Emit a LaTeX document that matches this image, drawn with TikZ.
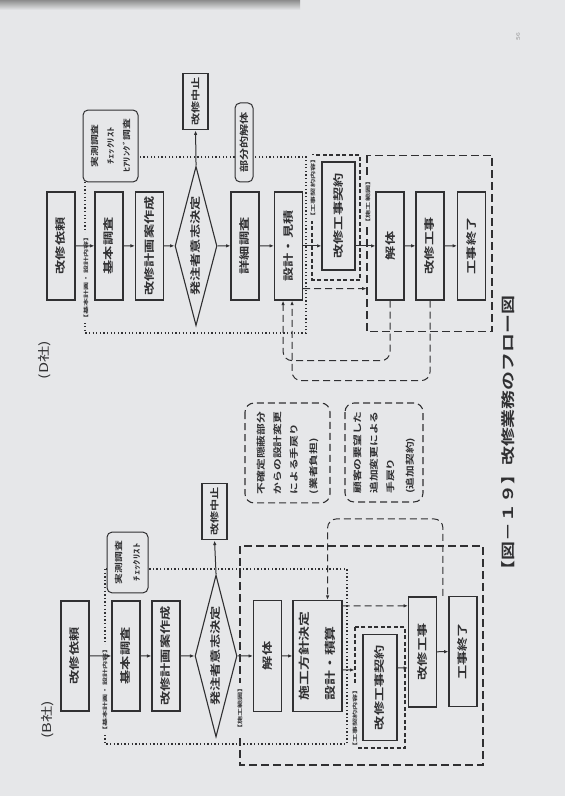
\documentclass[tikz,border=0pt]{standalone}
\usepackage{fontspec}
\setmainfont{Noto Sans CJK JP}[BoldFont={Noto Sans CJK JP Bold}]
\usepackage{graphicx}
\usetikzlibrary{arrows.meta,positioning,shapes.geometric,calc}
\definecolor{paper}{RGB}{230,231,233}
\definecolor{ink}{RGB}{48,48,50}
\newcommand{\tagtxt}[1]{\scalebox{1.2}[1]{#1}}

\begin{document}
\begin{tikzpicture}[
  x=0.7407pt, y=1pt, rotate=90, xscale=1.35, transform shape,
  every node/.style={text=ink},
  flowbox/.style={draw=ink,line width=1.1pt,fill=paper,minimum width=80,minimum height=28,
                  inner sep=1pt,font=\fontsize{10.5}{12}\selectfont\bfseries},
  decide/.style={diamond,shape aspect=3,draw=ink,line width=1.1pt,fill=paper,
                 minimum width=118,minimum height=42,inner sep=0pt,
                 font=\fontsize{10.5}{12}\selectfont\bfseries},
  stopbox/.style={flowbox,minimum width=42,minimum height=25,font=\fontsize{9}{10}\selectfont\bfseries},
  memo/.style={draw=ink,line width=1pt,fill=paper,rounded corners=5pt,align=center,
               inner sep=1pt,font=\fontsize{8}{16}\selectfont\bfseries},
  remark/.style={draw=ink,line width=1.1pt,dash pattern=on 7pt off 4pt,rounded corners=9pt,
                 align=left,inner sep=2pt,font=\fontsize{8.7}{16.5}\selectfont\bfseries},
  bracketlabel/.style={fill=paper,inner sep=0.6pt,font=\fontsize{5}{6}\selectfont\bfseries},
  kihonframe/.style={draw=ink,line width=1.3pt,dash pattern=on 1.3pt off 2.3pt,inner sep=0pt},
  keiyakuframe/.style={draw=ink,line width=1.1pt,dash pattern=on 4pt off 2.5pt,inner sep=0pt},
  sekoframe/.style={draw=ink,line width=1.1pt,dash pattern=on 8pt off 4pt,inner sep=0pt},
  sekoline/.style={dash pattern=on 7pt off 4pt},
  arr/.style={-{Latex[length=4.5pt,width=3.5pt]},draw=ink,line width=1pt},
  backarr/.style={arr,sekoline,rounded corners=9pt},
]
  % Paper
  \fill[paper] (0,0) rectangle (796,-565);
  \shade[top color=black!45,bottom color=paper] (786,0) rectangle (796,-300);
  \useasboundingbox (0,0) rectangle (796,-565);

  % ---------- D社 ----------
  \node[font=\fontsize{12}{14}\selectfont] (dsha) at (436,-45) {(D社)};

  % Frames
  \node[kihonframe,minimum width=130.4,minimum height=221] (dkihonf) at (551,-195.5) {};
  \node[keiyakuframe,minimum width=92.6,minimum height=48] (dkeiyakuf) at (578.5,-336) {};
  \node[sekoframe,minimum width=131,minimum height=125] (dsekof) at (552.5,-429.5) {};
  \node[bracketlabel] (dkihont) at (518,-86) {\tagtxt{【基本計画・設計内容】}};
  \node[bracketlabel] (dkeiyakut) at (608,-313) {\tagtxt{【工事契約内容】}};
  \node[bracketlabel] (dsekot) at (594,-368) {\tagtxt{【施工範囲】}};

  % Flow
  \node[flowbox] (dirai) at (550,-61) {改修依頼};
  \node[flowbox] (dkihon) at (550,-109) {基本調査};
  \node[flowbox] (dkeikaku) at (550,-149.5) {改修計画案作成};
  \node[decide] (dkettei) at (550,-196) {発注者意志決定};
  \node[flowbox] (dshosai) at (550,-245) {詳細調査};
  \node[flowbox] (dsekkei) at (550,-288.5) {設計・見積};
  \node[flowbox,minimum height=33] (dkeiyaku) at (580,-338.5) {改修工事契約};
  \node[flowbox] (dkaitai) at (550,-390) {解体};
  \node[flowbox] (dkoji) at (550,-430) {改修工事};
  \node[flowbox] (dshuryo) at (550,-471.5) {工事終了};
  \node[stopbox] (dchushi) at (694.5,-195.5) {改修中止};
  \node[memo,minimum width=53.3,minimum height=55] (dsokutei) at (650,-110.5)
    {実測調査\\ﾁｪｯｸﾘｽﾄ\\ﾋｱﾘﾝｸﾞ調査};
  \node[memo,minimum width=58.5,minimum height=18,font=\fontsize{9}{10}\selectfont\bfseries]
    (dbubun) at (653.5,-244) {部分的解体};

  % Arrows
  \draw[arr] (dirai) -- (dkihon);
  \draw[arr] (dkihon) -- (dkeikaku);
  \draw[arr] (dkeikaku) -- (dkettei);
  \draw[arr] (dkettei) -- (dshosai);
  \draw[arr] (dshosai) -- (dsekkei);
  \draw[arr] (dsekkei.south) -- (dsekkei.south |- dkeiyaku.north);
  \draw[arr] (dkaitai.north |- dkeiyaku.south) -- (dkaitai.north);
  \draw[arr] (dkaitai) -- (dkoji);
  \draw[arr] (dkoji) -- (dshuryo);
  \draw[arr] (dkettei.east) -- (dchushi.west);
  \draw[arr,sekoline] ($(dsekkei.south west)+(12,0)$) coordinate (dmit) -- (dmit |- dsekof.north);
  \draw[backarr] (dkaitai.west) -- ++(-60,0) |- ($(dsekkei.west)+(0,5.5)$);
  \draw[backarr] (dkoji.west) -- ++(-80,0) |- ($(dsekkei.west)+(0,-3.5)$);

  % ---------- B社 ----------
  \node[font=\fontsize{12}{14}\selectfont] (bsha) at (76,-48) {(B社)};

  % Frames
  \node[kihonframe,minimum width=129.6,minimum height=242] (bkihonf) at (139.5,-226) {};
  \node[sekoframe,minimum width=162.2,minimum height=243] (bsekof) at (140.5,-361.5) {};
  \node[keiyakuframe,minimum width=89.6,minimum height=50] (bkeiyakuf) at (108.5,-380) {};
  \node[bracketlabel] (bkihont) at (106,-105) {\tagtxt{【基本計画・設計内容】}};
  \node[bracketlabel] (bsekot) at (87.5,-240) {\tagtxt{【施工範囲】}};
  \node[bracketlabel] (bkeiyakut) at (77.5,-355) {\tagtxt{【工事契約内容】}};

  % Flow
  \node[flowbox,minimum width=81.5] (birai) at (140,-75) {改修依頼};
  \node[flowbox,minimum width=81.5] (bkihon) at (140,-126) {基本調査};
  \node[flowbox,minimum width=81.5] (bkeikaku) at (140,-166) {改修計画案作成};
  \node[decide,minimum width=120] (bkettei) at (140,-216) {発注者意志決定};
  \node[flowbox,minimum width=82] (bkaitai) at (140,-267.5) {解体};
  \node[flowbox,minimum width=82,minimum height=49,align=left,
        font=\fontsize{11}{26}\selectfont\bfseries] (bhoshin) at (140,-317.5)
    {施工方針決定\\設計・積算};
  \node[flowbox,minimum width=78,minimum height=34] (bkeiyaku) at (108.5,-380) {改修工事契約};
  \node[flowbox,minimum width=81.5] (bkoji) at (144,-422.5) {改修工事};
  \node[flowbox,minimum width=81.5] (bshuryo) at (144.5,-463) {工事終了};
  \node[stopbox] (bchushi) at (284.5,-214.5) {改修中止};
  \node[memo,minimum width=45,minimum height=41,font=\fontsize{8}{18}\selectfont\bfseries]
    (bsokutei) at (233.5,-127.5) {実測調査\\ﾁｪｯｸﾘｽﾄ};

  % Arrows
  \draw[arr] (birai) -- (bkihon);
  \draw[arr] (bkihon) -- (bkeikaku);
  \draw[arr] (bkeikaku) -- (bkettei);
  \draw[arr] (bkettei) -- (bkaitai);
  \draw[arr] (bkaitai) -- (bhoshin);
  \draw[arr] ($(bhoshin.south)+(-14,0)$) coordinate (bmit) -- (bmit |- bkeiyakuf.north);
  \draw[arr] ($(bkeiyaku.south)+(19.5,0)$) coordinate (bmit2) -- (bmit2 |- bkoji.north);
  \draw[arr] (bkoji) -- (bshuryo);
  \draw[arr] (bkettei.east) -- (bchushi.west);
  \draw[arr,sekoline] ($(bhoshin.south east)+(-6,0)$) coordinate (bmit3) -- (bmit3 |- bkoji.north);
  \coordinate (bmodori) at ($(bkoji.east)!0.5!(bshuryo.east)$);
  \draw[backarr] (bmodori) -- ++(77,0) |- ($(bhoshin.east)+(0,-10)$);

  % Notes
  \node[remark,minimum width=74,minimum height=85] (fukakutei) at (343,-287.5)
    {不確定隠蔽部分\\からの設計変更\\による手戻り\\[3pt](業者負担)};
  \node[remark,minimum width=73.3,minimum height=78] (tsuika) at (343.5,-384)
    {顧客の要望した\\追加変更による\\手戻り\\[3pt](追加契約)};

  % Caption
  \node[font=\fontsize{14}{16}\selectfont\bfseries] (caption) at (358.5,-508)
    {【図－１９】改修業務のフロー図};
  \node[font=\fontsize{5}{6}\selectfont,text=ink!55] (pnum) at (759,-518) {56};
\end{tikzpicture}
\end{document}
